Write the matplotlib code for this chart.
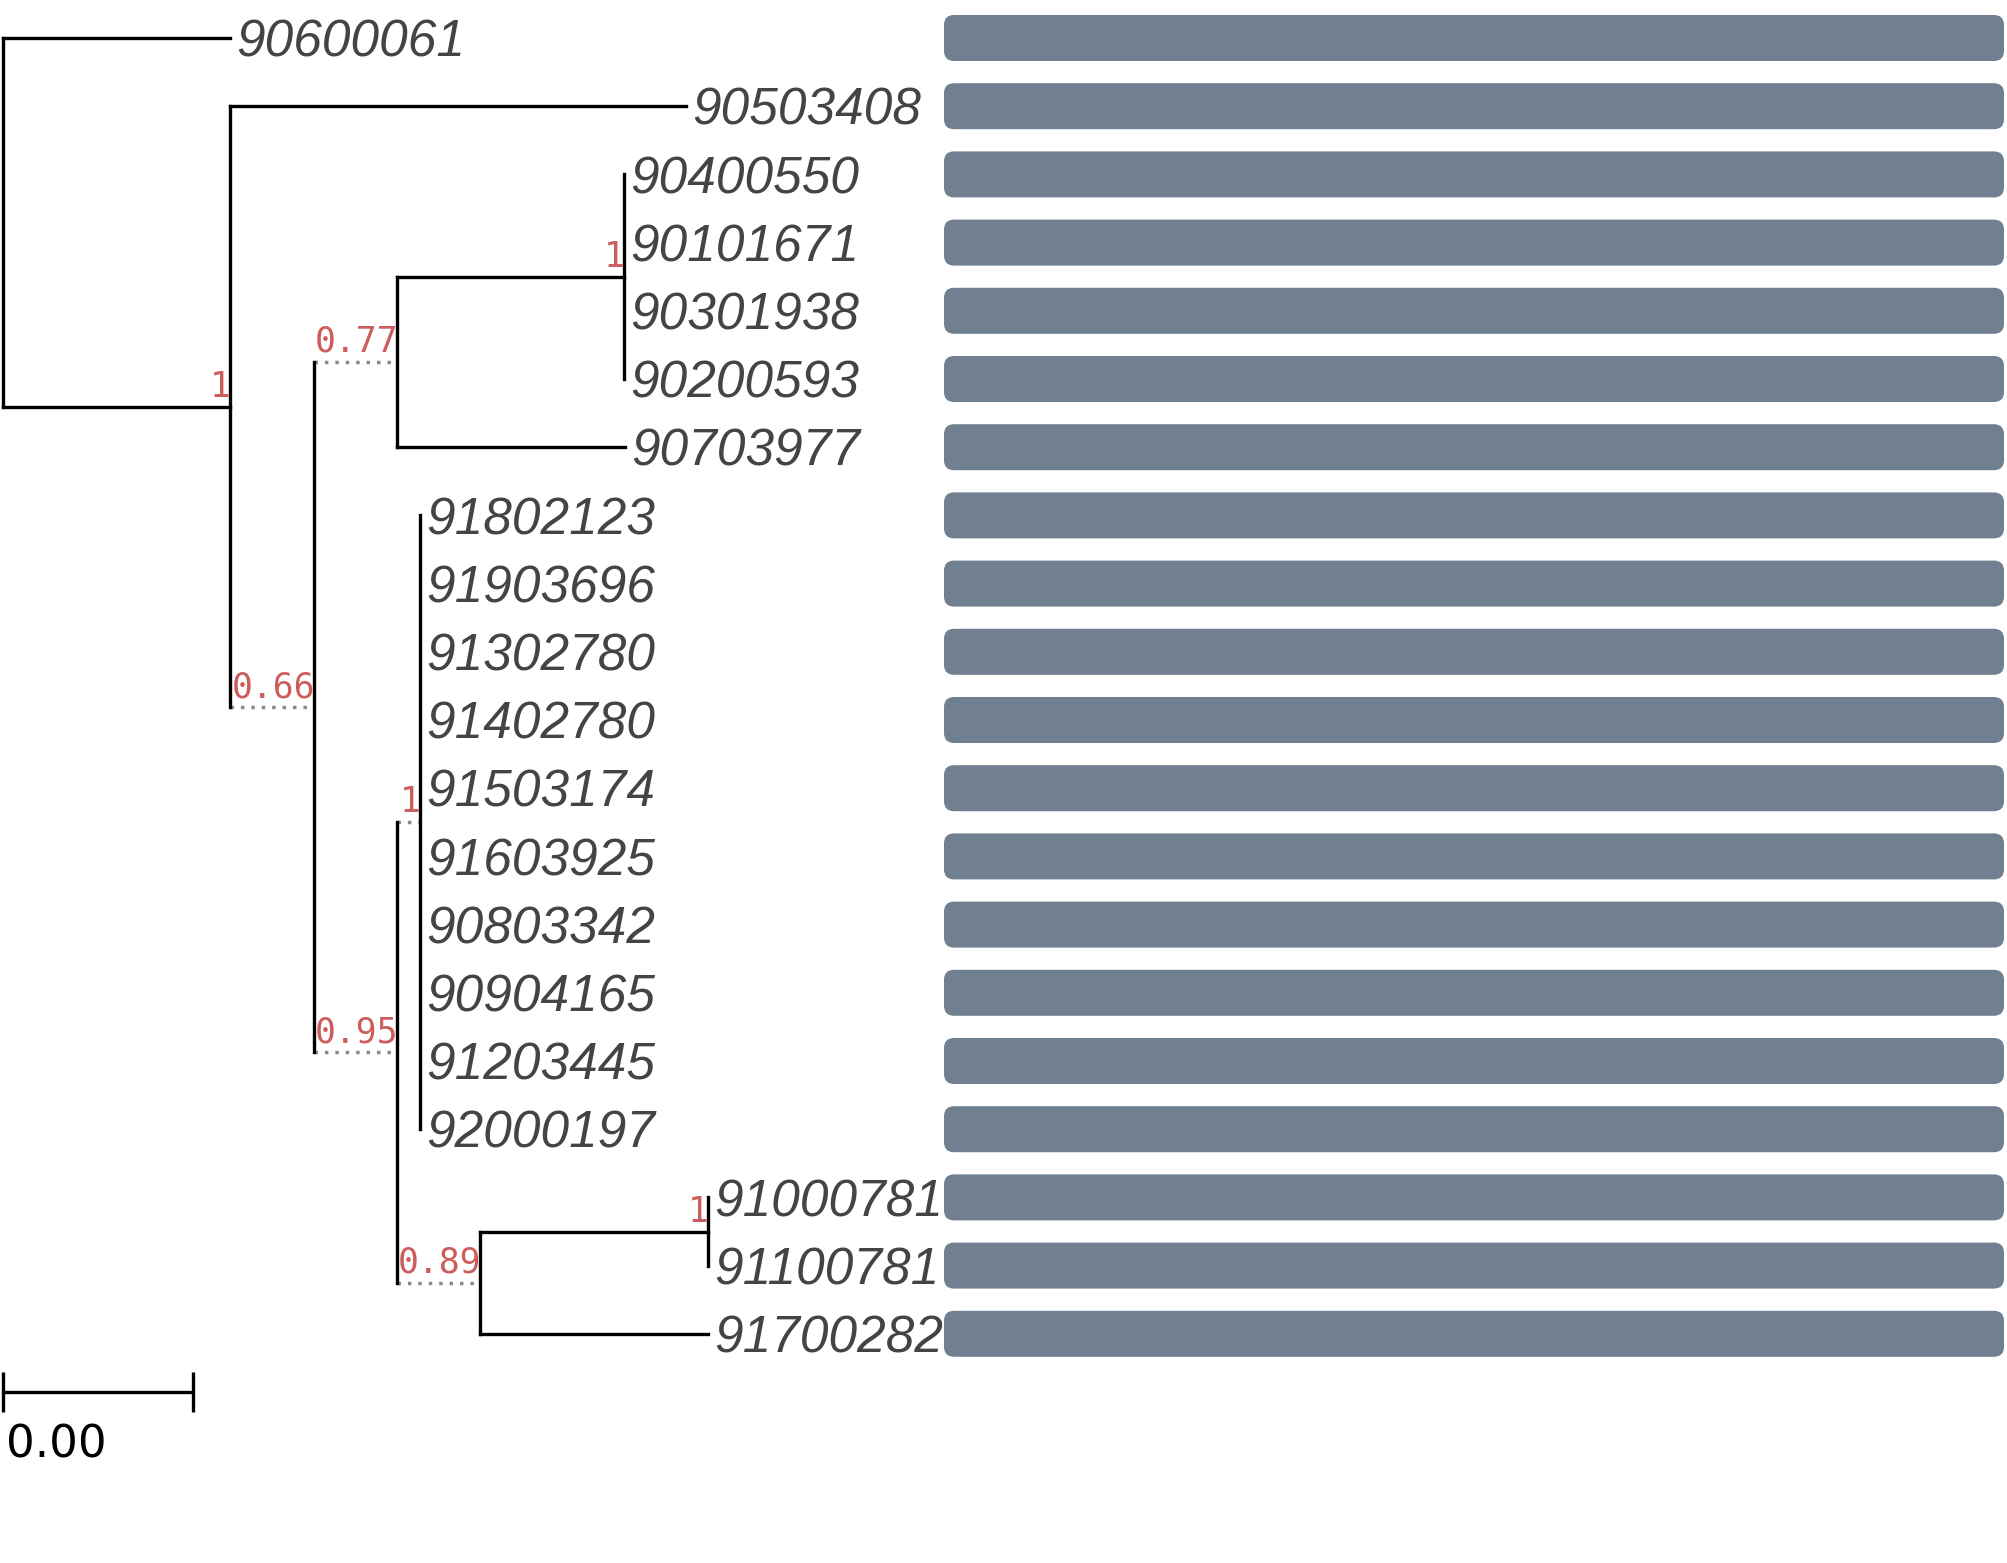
import matplotlib
matplotlib.use('Agg')
import matplotlib.pyplot as plt
from matplotlib.patches import FancyBboxPatch

# ============================================================
# Tree data (tips listed top -> bottom)
# ============================================================
tips = ['90600061', '90503408', '90400550', '90101671', '90301938',
        '90200593', '90703977', '91802123', '91903696', '91302780',
        '91402780', '91503174', '91603925', '90803342', '90904165',
        '91203445', '92000197', '91000781', '91100781', '91700282']

# internal nodes: name, parent, branch length, support, dotted branch
node_names   = ['root', 'A', 'B', 'N077', 'N1a', 'N095', 'N1b', 'N089', 'N1c']
node_parent  = [None, 'root', 'A', 'B', 'N077', 'B', 'N095', 'N095', 'N089']
node_brlen   = [0.0, 0.001195, 0.000442, 0.000437, 0.001195,
                0.000437, 0.000121, 0.000437, 0.0012]
node_support = [None, '1', '0.66', '0.77', '1', '0.95', '1', '0.89', '1']
node_dotted  = [False, False, True, True, False, True, True, True, False]

tip_parent = ['root', 'A', 'N1a', 'N1a', 'N1a', 'N1a', 'N077',
              'N1b', 'N1b', 'N1b', 'N1b', 'N1b', 'N1b', 'N1b', 'N1b',
              'N1b', 'N1b', 'N1c', 'N1c', 'N089']
tip_brlen = [0.001195, 0.0024, 0.0, 0.0, 0.0, 0.0, 0.0012,
             0.0, 0.0, 0.0, 0.0, 0.0, 0.0, 0.0, 0.0,
             0.0, 0.0, 0.0, 0.0, 0.0012]

bar_values = [1, 1, 1, 1, 1, 1, 1, 1, 1, 1,
              1, 1, 1, 1, 1, 1, 1, 1, 1, 1]

SCALE_LEN = 0.001

BRANCH_COL = 'black'
DOT_COL = '#8a8a8a'
SUPPORT_COL = '#cd5c5c'
TIP_COL = '#444444'
BAR_COL = '#708090'

# ============================================================
# Layout: x = cumulative distance, y = tip order
# ============================================================
parent = dict(zip(node_names, node_parent))
brlen = dict(zip(node_names, node_brlen))
for t, p, b in zip(tips, tip_parent, tip_brlen):
    parent[t] = p
    brlen[t] = b

xpos = {}
def get_x(n):
    if n not in xpos:
        p = parent[n]
        xpos[n] = 0.0 if p is None else get_x(p) + brlen[n]
    return xpos[n]

ypos = {t: float(i) for i, t in enumerate(tips)}
children = {n: [] for n in node_names}
for n, p in parent.items():
    if p is not None:
        children[p].append(n)

def get_y(n):
    if n not in ypos:
        ys = [get_y(c) for c in children[n]]
        ypos[n] = (min(ys) + max(ys)) / 2.0
    return ypos[n]

for n in list(parent):
    get_x(n)
    get_y(n)

# ============================================================
# Figure
# ============================================================
W, H, DPI = 2007, 1563, 100
fig = plt.figure(figsize=(W / DPI, H / DPI), dpi=DPI)
fig.patch.set_facecolor('white')

PX_PER_UNIT = 190.0 / SCALE_LEN
ROOT_PX = 3.0
TIP0_PX, TIP_STEP = 38.0, 68.2

ax = fig.add_axes([0, 0, 1, 1])
ax.set_xlim(-ROOT_PX / PX_PER_UNIT, (W - ROOT_PX) / PX_PER_UNIT)
ax.set_ylim((H - TIP0_PX) / TIP_STEP, -TIP0_PX / TIP_STEP)
ax.axis('off')

lw = 2.4
dotted = dict(color=DOT_COL, lw=2.5, linestyle=(0, (1, 2)),
              dash_capstyle='butt')
solid = dict(color=BRANCH_COL, lw=lw, solid_capstyle='projecting')

# horizontal branches
for n in parent:
    p = parent[n]
    if p is None:
        continue
    is_dot = n in node_names and node_dotted[node_names.index(n)]
    ax.plot([xpos[p], xpos[n]], [ypos[n], ypos[n]],
            **(dotted if is_dot else solid))

# vertical connectors
for n in node_names:
    ys = [ypos[c] for c in children[n]]
    ax.plot([xpos[n], xpos[n]], [min(ys), max(ys)], **solid)

# support values
for n, s in zip(node_names, node_support):
    if s is None:
        continue
    ax.annotate(s, (xpos[n], ypos[n]), xytext=(0.7, 7.2),
                textcoords='offset points', ha='right', va='baseline',
                color=SUPPORT_COL, fontsize=25, family='DejaVu Sans Mono')

# tip labels
for t in tips:
    ax.annotate(t, (xpos[t], ypos[t]), xytext=(4.3, -13.5),
                textcoords='offset points', ha='left', va='baseline',
                color=TIP_COL, fontsize=37, family='Liberation Sans',
                style='italic')

# scale bar
sb_y = (1392 - TIP0_PX) / TIP_STEP
tick_h = 20 / TIP_STEP
ax.plot([0, SCALE_LEN], [sb_y, sb_y], color='black', lw=lw,
        solid_capstyle='butt')
for xv in (0, SCALE_LEN):
    ax.plot([xv, xv], [sb_y - tick_h, sb_y + tick_h], color='black', lw=lw,
            solid_capstyle='butt')
ax.annotate(f'{SCALE_LEN:.2f}', (0, sb_y), xytext=(2.5, -47),
            textcoords='offset points', ha='left', va='baseline',
            color='black', fontsize=32.5, family='DejaVu Sans')

# ============================================================
# Bar panel
# ============================================================
BAR_L, BAR_R = 944, 2004
axb = fig.add_axes([BAR_L / W, 0, (BAR_R - BAR_L) / W, 1])
axb.set_xlim(0, max(bar_values))
axb.set_ylim(ax.get_ylim())
axb.axis('off')

bar_h = 46 / TIP_STEP
x_unit_px = (BAR_R - BAR_L) / max(bar_values)
aspect = (1 / TIP_STEP) / (1 / x_unit_px)
r = 10 / x_unit_px
for t, v in zip(tips, bar_values):
    axb.add_patch(FancyBboxPatch(
        (0, ypos[t] - bar_h / 2), v, bar_h,
        boxstyle=f'round,pad=0,rounding_size={r}',
        mutation_aspect=aspect, facecolor=BAR_COL, edgecolor='none'))

fig.savefig('out.png', dpi=DPI, facecolor='white')
